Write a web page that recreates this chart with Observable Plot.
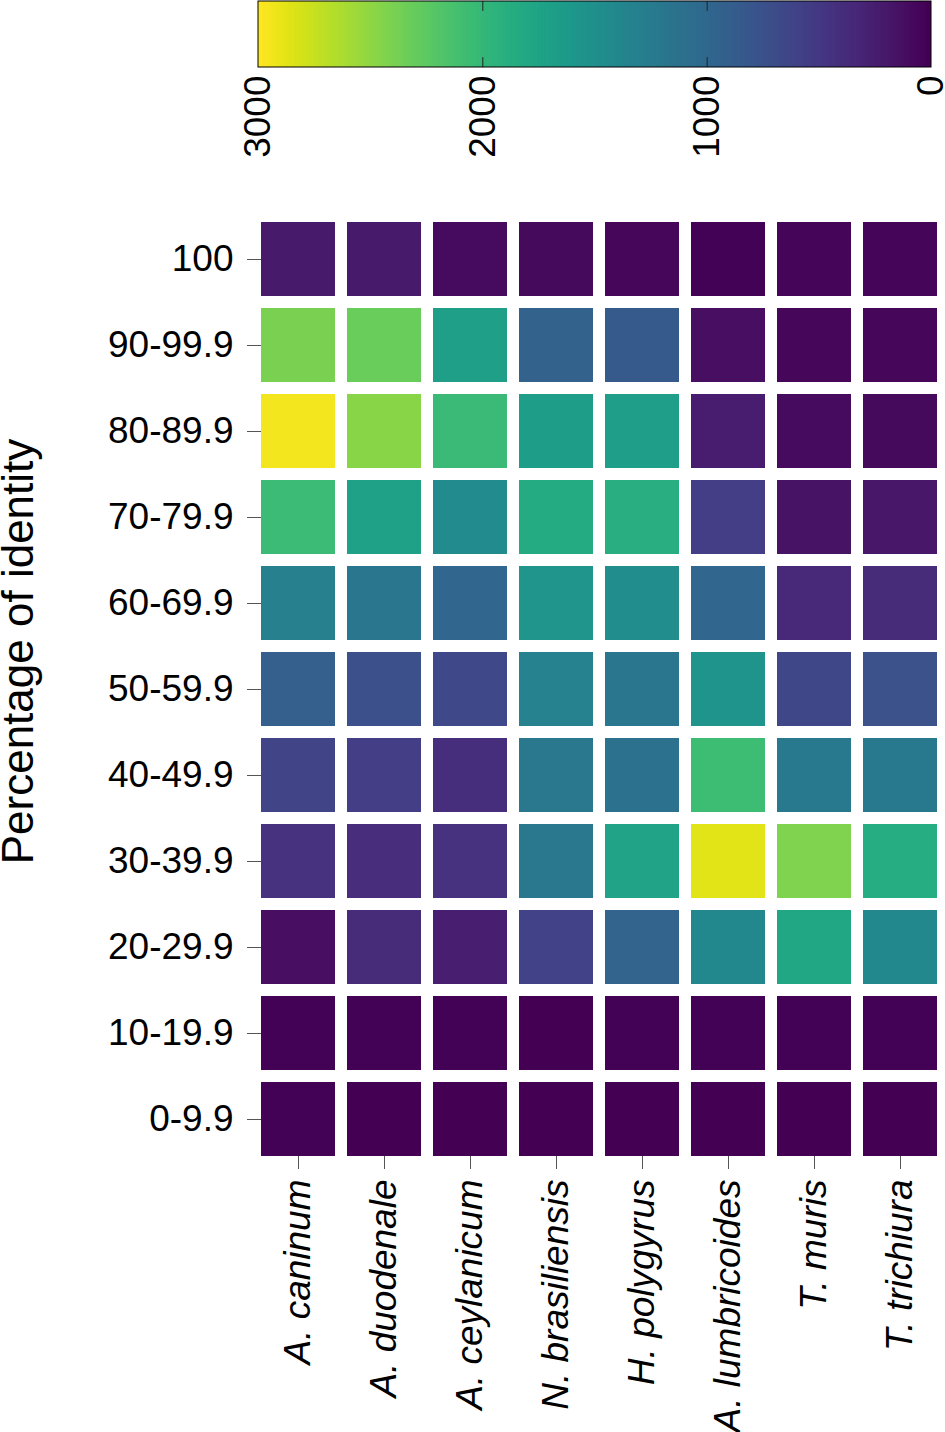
<!DOCTYPE html>
<html>
<head>
<meta charset="utf-8">
<script src="https://cdn.jsdelivr.net/npm/d3@7"></script>
<script src="https://cdn.jsdelivr.net/npm/@observablehq/plot@0.6"></script>
<style>
  html, body { margin: 0; padding: 0; background: #fff; }
  #wrap { position: relative; width: 945px; height: 1432px; font-family: "Liberation Sans", Arial, sans-serif; }
  #wrap svg { position: absolute; left: 0; top: 0; font-family: "Liberation Sans", Arial, sans-serif; overflow: visible; }
  .heat [aria-label="y-axis tick"] path, .heat [aria-label="x-axis tick"] path { stroke: #555; }
  .heat [aria-label="x-axis tick label"] text { font-style: italic; }
  .cbar [aria-label="x-axis tick label"] text { font-style: normal; }
</style>
</head>
<body>
<div id="wrap"></div>
<script>
const species = ["A. caninum", "A. duodenale", "A. ceylanicum", "N. brasiliensis",
                 "H. polygyrus", "A. lumbricoides", "T. muris", "T. trichiura"];
const bins = ["100", "90-99.9", "80-89.9", "70-79.9", "60-69.9", "50-59.9",
              "40-49.9", "30-39.9", "20-29.9", "10-19.9", "0-9.9"];
// counts per species, in the order of bins
const A_caninum      = [200, 2400, 2950, 2040, 1300,  900,  600,  430,  110, 20, 15];
const A_duodenale    = [200, 2320, 2470, 1700, 1180,  730,  550,  380,  370, 15, 10];
const A_ceylanicum   = [ 90, 1680, 2030, 1440,  980,  650,  390,  430,  250, 15, 10];
const N_brasiliensis = [ 80,  930, 1660, 1830, 1560, 1320, 1200, 1200,  590, 10, 10];
const H_polygyrus    = [ 50,  840, 1670, 1880, 1470, 1180, 1120, 1740,  950, 15, 10];
const A_lumbricoides = [ 20,  110,  240,  550,  980, 1550, 2060, 2870, 1400, 15, 10];
const T_muris        = [ 40,   50,   90,  150,  350,  640, 1210, 2420, 1790, 20, 10];
const T_trichiura    = [ 40,   50,   80,  180,  370,  750, 1210, 1860, 1400, 15, 10];
const colorTicks = [3000, 2000, 1000, 0];
const colorDomain = [0, 3000];

const series = [A_caninum, A_duodenale, A_ceylanicum, N_brasiliensis,
                H_polygyrus, A_lumbricoides, T_muris, T_trichiura];
const table = [];
species.forEach((s, i) => bins.forEach((b, j) => table.push({species: s, bin: b, value: series[i][j]})));

const W = 945, H = 1432;
const wrap = document.getElementById("wrap");

// Heatmap
const heat = Plot.plot({
  className: "heat",
  width: W, height: H,
  marginTop: 216, marginBottom: H - 1162, marginLeft: 255, marginRight: 2,
  style: {fontFamily: "Liberation Sans, Arial, sans-serif", color: "#000", background: "transparent"},
  x: {type: "band", domain: species, padding: 0, label: null},
  y: {type: "band", domain: bins, padding: 0, label: null},
  color: {type: "linear", scheme: "viridis", domain: colorDomain},
  marks: [
    Plot.cell(table, {x: "species", y: "bin", fill: "value", inset: 6}),
    Plot.axisY({dx: 6, tickSize: 14, tickPadding: 14, fontSize: 37, label: null}),
    Plot.axisX({anchor: "bottom", dy: -6, tickSize: 13, tickPadding: 10, tickRotate: -90, fontSize: 37, label: null}),
    Plot.text(["Percentage of identity"], {frameAnchor: "left", textAnchor: "middle", rotate: -90, dx: -237, dy: -38, fontSize: 44, fill: "#000"})
  ]
});
wrap.appendChild(heat);

// Colour bar
const grad = d3.range(0, 3000, 3);
const bar = Plot.plot({
  className: "cbar",
  width: W, height: 170,
  marginTop: 1, marginBottom: 103, marginLeft: 0, marginRight: 0,
  style: {fontFamily: "Liberation Sans, Arial, sans-serif", color: "#000", background: "transparent"},
  x: {type: "linear", domain: [3000, 0], range: [258, 931]},
  y: {type: "linear", domain: [0, 1], axis: null},
  color: {type: "linear", scheme: "viridis", domain: colorDomain},
  marks: [
    Plot.rect(grad, {x1: d => d, x2: d => Math.min(3000, d + 8), y1: () => 0, y2: () => 1, fill: d => d}),
    Plot.ruleX([2000, 1000], {y1: () => 0, y2: () => 0.15, stroke: "#222"}),
    Plot.ruleX([2000, 1000], {y1: () => 0.85, y2: () => 1, stroke: "#222"}),
    Plot.rect([0], {x1: () => 3000, x2: () => 0, y1: () => 0, y2: () => 1, fill: "none", stroke: "#000"}),
    Plot.axisX({anchor: "bottom", ticks: colorTicks, tickSize: 0, tickPadding: 8, tickRotate: -90, fontSize: 37, label: null, tickFormat: d => String(d)})
  ]
});
wrap.appendChild(bar);
</script>
</body>
</html>
